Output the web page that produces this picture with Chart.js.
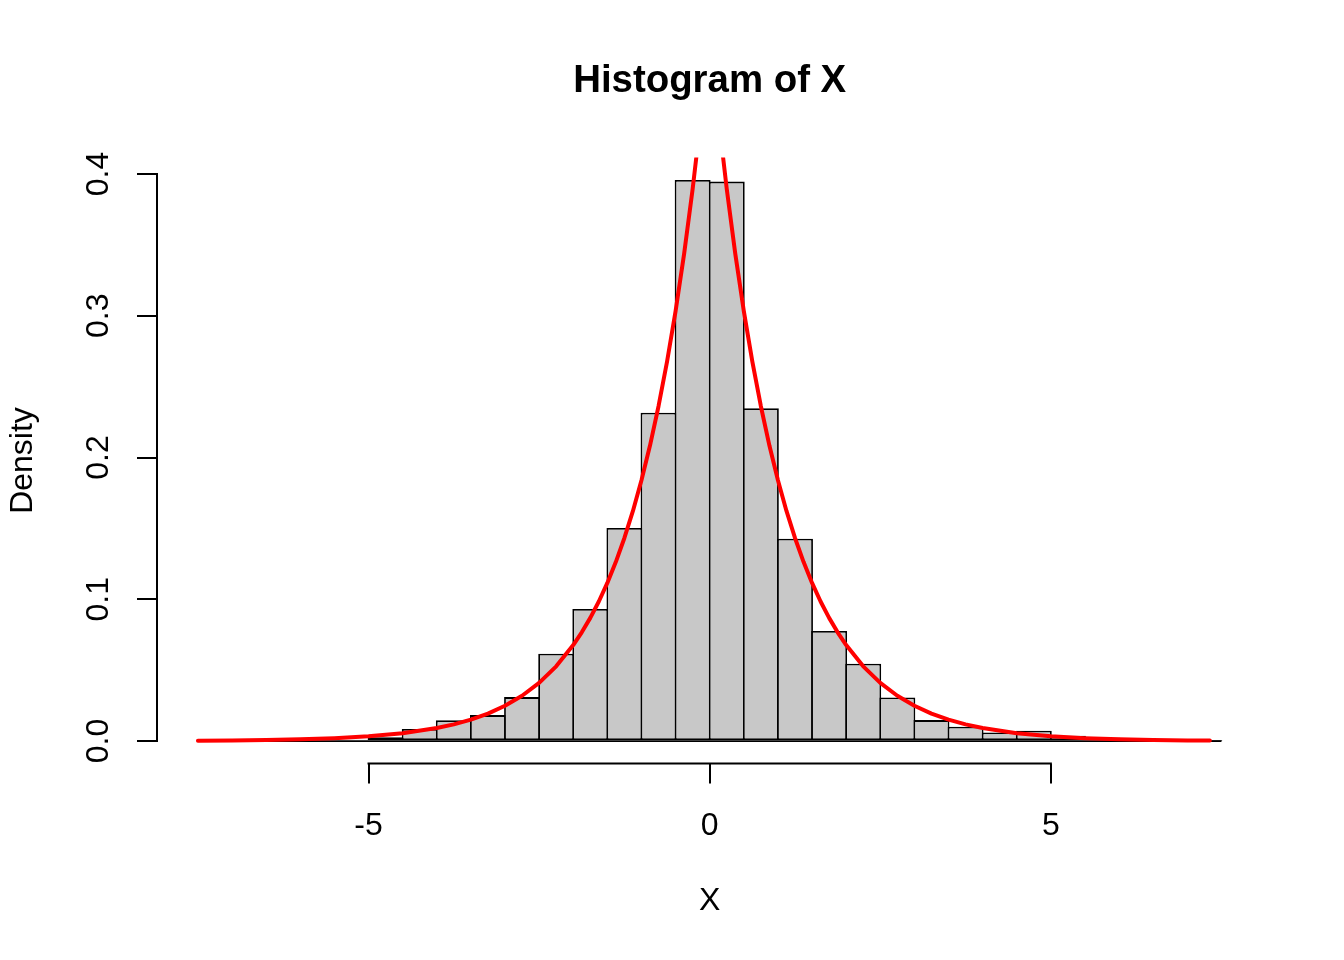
<!DOCTYPE html>
<html>
<head>
<meta charset="utf-8">
<title>Histogram of X</title>
<script src="https://cdn.jsdelivr.net/npm/chart.js@4.4.1/dist/chart.umd.min.js"></script>
<style>
  html, body { margin: 0; padding: 0; background: #ffffff; }
  #wrap { width: 1344px; height: 960px; }
</style>
</head>
<body>
<div id="wrap"><canvas id="c" width="1344" height="960"></canvas></div>
<script>
// ---- data ----
const breaks = [-7.5, -7, -6.5, -6, -5.5, -5, -4.5, -4, -3.5, -3, -2.5, -2, -1.5, -1, -0.5, 0,
                0.5, 1, 1.5, 2, 2.5, 3, 3.5, 4, 4.5, 5, 5.5, 6, 6.5, 7, 7.5];
const density = [0.0002, 0.0002, 0.0008, 0.0010, 0.0010, 0.0026, 0.0085, 0.0146, 0.0183, 0.0310,
                 0.0616, 0.0931, 0.1503, 0.2316, 0.3958, 0.3946, 0.2347, 0.1427, 0.0776, 0.0545,
                 0.0308, 0.0148, 0.0101, 0.0061, 0.0073, 0.0038, 0.0023, 0.0010, 0.0003, 0.0002];

const curveX = [-7.5, -7, -6.5, -6, -5.5, -5, -4.5, -4, -3.75, -3.5, -3.25, -3, -2.75, -2.5, -2.25, -2,
                -1.875, -1.75, -1.625, -1.5, -1.375, -1.25, -1.125, -1, -0.875, -0.75, -0.625, -0.5,
                -0.375, -0.25, -0.125, 0, 0.125, 0.25, 0.375, 0.5, 0.625, 0.75, 0.875, 1, 1.125, 1.25,
                1.375, 1.5, 1.625, 1.75, 1.875, 2, 2.25, 2.5, 2.75, 3, 3.25, 3.5, 3.75, 4, 4.5, 5,
                5.5, 6, 6.5, 7, 7.33];
const curveY = [0.00028, 0.00046, 0.00075, 0.00124, 0.00204, 0.00337, 0.00555, 0.00916, 0.01176, 0.01510,
                0.01939, 0.02489, 0.03196, 0.04104, 0.05270, 0.06767, 0.07668, 0.08689, 0.09846, 0.11157,
                0.12642, 0.14325, 0.16233, 0.18394, 0.20843, 0.23618, 0.26763, 0.30327, 0.34364, 0.38940,
                0.44125, 0.5, 0.44125, 0.38940, 0.34364, 0.30327, 0.26763, 0.23618, 0.20843, 0.18394,
                0.16233, 0.14325, 0.12642, 0.11157, 0.09846, 0.08689, 0.07668, 0.06767, 0.05270, 0.04104,
                0.03196, 0.02489, 0.01939, 0.01510, 0.01176, 0.00916, 0.00555, 0.00337, 0.00204, 0.00124,
                0.00075, 0.00046, 0.00033];

const xTicks = [-5, 0, 5];
const yTicks = [0, 0.1, 0.2, 0.3, 0.4];
const xRange = [-8.1, 8.1];
const yRange = [-0.01583, 0.41163];

const titleText = 'Histogram of X';
const xTitle = 'X';
const yTitle = 'Density';

// ---- build library structures ----
const barData = density.map((d, i) => ({ x: (breaks[i] + breaks[i + 1]) / 2, y: d }));
const curveData = curveX.map((x, i) => ({ x: x, y: curveY[i] }));
const baseData = [{ x: breaks[0], y: 0 }, { x: breaks[breaks.length - 1], y: 0 }];

Chart.defaults.font.family = '"Liberation Sans", Arial, Helvetica, sans-serif';
Chart.defaults.color = '#000000';

const rAxisLines = {
  id: 'rAxisLines',
  afterDraw(chart) {
    const { ctx } = chart;
    const xs = chart.scales.x, ys = chart.scales.y;
    const xt = xs.ticks, yt = ys.ticks;
    ctx.save();
    ctx.strokeStyle = '#000000';
    ctx.lineWidth = 2;
    ctx.lineCap = 'square';
    ctx.beginPath();
    ctx.moveTo(xs.getPixelForValue(xt[0].value), xs.top);
    ctx.lineTo(xs.getPixelForValue(xt[xt.length - 1].value), xs.top);
    ctx.moveTo(ys.right, ys.getPixelForValue(yt[0].value));
    ctx.lineTo(ys.right, ys.getPixelForValue(yt[yt.length - 1].value));
    ctx.stroke();
    ctx.restore();
  }
};

new Chart(document.getElementById('c'), {
  type: 'bar',
  data: {
    datasets: [
      {
        type: 'bar',
        data: barData,
        backgroundColor: '#c8c8c8',
        borderColor: '#000000',
        borderWidth: 1.8,
        borderSkipped: false,
        inflateAmount: 0,
        barPercentage: 1.053,
        categoryPercentage: 1,
        grouped: false,
        order: 3
      },
      {
        type: 'line',
        data: baseData,
        borderColor: '#000000',
        borderWidth: 1.8,
        pointRadius: 0,
        tension: 0,
        order: 2
      },
      {
        type: 'line',
        data: curveData,
        borderColor: '#ff0000',
        borderWidth: 4,
        borderCapStyle: 'round',
        borderJoinStyle: 'round',
        pointRadius: 0,
        tension: 0,
        order: 1
      }
    ]
  },
  options: {
    responsive: false,
    devicePixelRatio: 1,
    animation: false,
    events: [],
    layout: { padding: { left: 0, right: 81.6, top: 0, bottom: 0 }, autoPadding: false },
    plugins: {
      legend: { display: false },
      tooltip: { enabled: false },
      title: {
        display: true,
        text: titleText,
        fullSize: false,
        color: '#000000',
        font: { size: 38.4, weight: 'bold', lineHeight: 1.2 },
        padding: { top: 58.5, bottom: 52.9 }
      }
    },
    scales: {
      x: {
        type: 'linear',
        min: xRange[0],
        max: xRange[1],
        offset: false,
        afterBuildTicks: (s) => { s.ticks = xTicks.map(v => ({ value: v })); },
        afterFit: (s) => { s.height = 196.5; },
        border: { display: false },
        grid: { display: true, offset: false, drawOnChartArea: false, drawTicks: true, tickLength: 20,
                color: '#000000', lineWidth: 2, tickColor: '#000000', tickWidth: 2 },
        ticks: { padding: 23, font: { size: 32 }, color: '#000000', maxRotation: 0, minRotation: 0,
                 callback: (v) => String(v) },
        title: { display: true, text: xTitle, color: '#000000', font: { size: 32 },
                 padding: { top: 0, bottom: 39.5 } }
      },
      y: {
        type: 'linear',
        min: yRange[0],
        max: yRange[1],
        afterBuildTicks: (s) => { s.ticks = yTicks.map(v => ({ value: v })); },
        afterFit: (s) => { s.width = 157; },
        border: { display: false },
        grid: { display: true, drawOnChartArea: false, drawTicks: true, tickLength: 20,
                color: '#000000', lineWidth: 2, tickColor: '#000000', tickWidth: 2 },
        ticks: { padding: 15.1, font: { size: 32 }, color: '#000000', minRotation: 90, maxRotation: 90,
                 crossAlign: 'center', callback: (v) => Number(v).toFixed(1) },
        title: { display: true, text: yTitle, color: '#000000', font: { size: 32 },
                 padding: { top: 3.8, bottom: 0 } }
      }
    }
  },
  plugins: [rAxisLines]
});
</script>
</body>
</html>
